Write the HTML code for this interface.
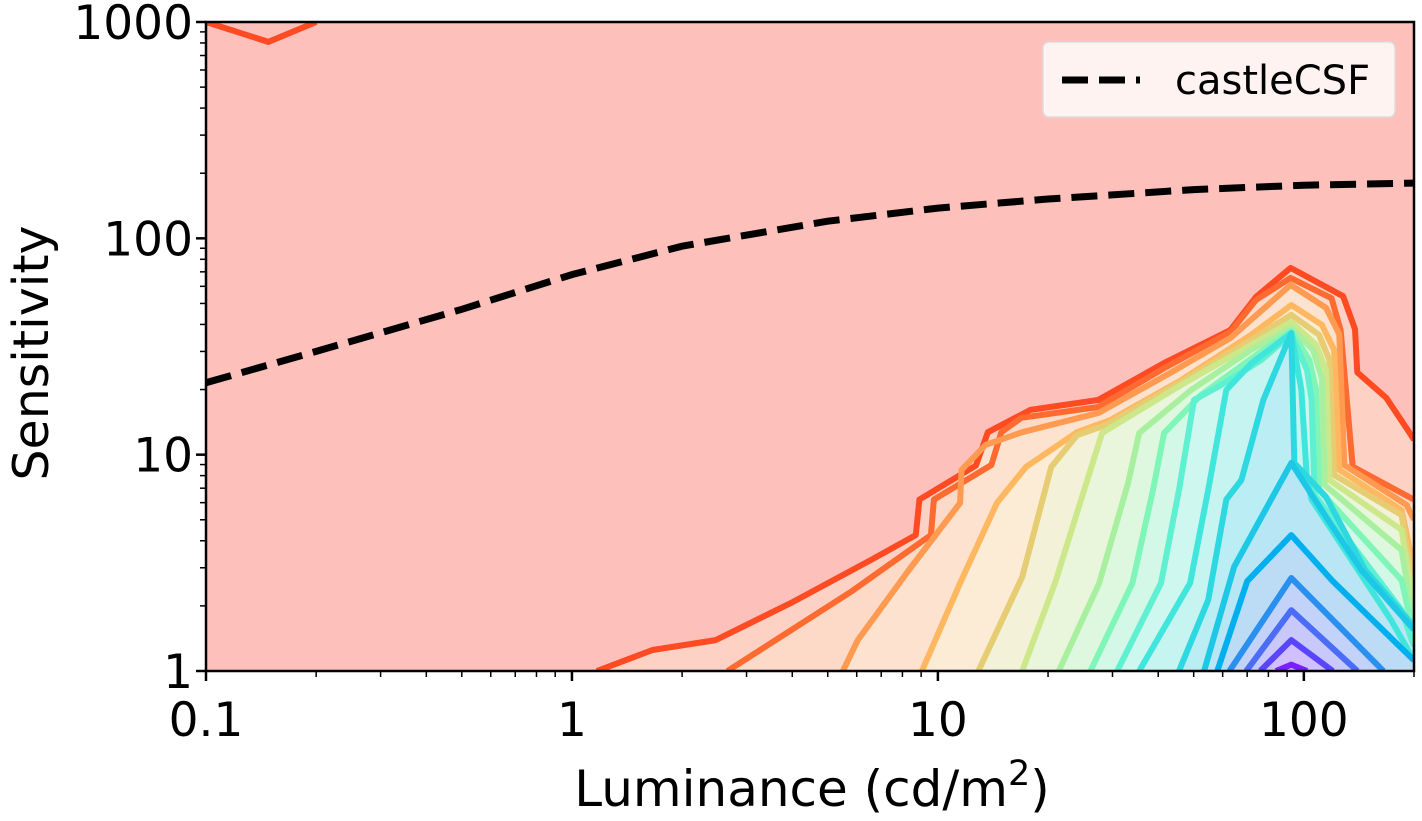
<!DOCTYPE html>
<html><head><meta charset="utf-8"><style>
html,body{margin:0;padding:0;background:#fff;}
svg{display:block;font-family:"DejaVu Sans","Liberation Sans",sans-serif;}
</style></head><body>
<svg id="chart" width="1422" height="821" xmlns="http://www.w3.org/2000/svg">
<defs><clipPath id="plotclip"><rect x="206" y="22" width="1208" height="649"/></clipPath></defs>
<rect x="206" y="22" width="1208" height="649" fill="#fdc0bb"/>
<g id="contours" clip-path="url(#plotclip)"></g>
<g id="csf" clip-path="url(#plotclip)"></g>
<rect x="206" y="22" width="1208" height="649" fill="none" stroke="#000" stroke-width="2.5"/>
<g id="axes"></g>
<text x="812" y="806" font-size="50" text-anchor="middle">Luminance (cd/m<tspan dy="-21" font-size="35">2</tspan><tspan dy="21">)</tspan></text>
<text transform="translate(48,353) rotate(-90)" font-size="49" text-anchor="middle">Sensitivity</text>
<g>
<rect x="1043" y="42" width="352" height="75" rx="6" fill="#fff" fill-opacity="0.8" stroke="#ddd" stroke-width="1.5"/>
<line x1="1062" y1="80" x2="1140" y2="80" stroke="#000" stroke-width="7" stroke-dasharray="26,11"/>
<text x="1175" y="94" font-size="40">castleCSF</text>
</g>
</svg>
<script>
const xTickValues = [0.1, 1, 10, 100];
const xTickLabels = ["0.1", "1", "10", "100"];
const yTickValues = [1, 10, 100, 1000];
const yTickLabels = ["1", "10", "100", "1000"];
const csfLum = [0.1, 0.2, 0.5, 1, 2, 5, 10, 20, 50, 100, 200];
const csfSens = [21.5, 30, 47, 68, 92, 120, 138, 152, 168, 176, 180];
const contourColors = ["#ff4a22","#ff6a30","#ff9a50","#ffb860","#e6cc72","#cce88a","#a8f0a0","#7ff5b8","#5ef0d0","#40e6dc","#2ed8e0","#1cc8e6","#00b0ee","#2a90f0","#4a6cf6","#5a46fa","#7a20ff"];
const contourFills = ["#fdd2c4","#fdd9c8","#fde3cf","#fcecd6","#f3f2d8","#eaf6dc","#def8e0","#d4f8e8","#cdf7ef","#c6f4f0","#baeef4","#b8e6f5","#bcdcf6","#c2d2f8","#c8c8fb","#d0c0ff","#d8b8ff"];
const c0 = [[0.1,1000],[0.148,809],[0.2,1000]];
const c1 = [[1.17,1],[1.66,1.25],[2.47,1.39],[3.96,2.06],[6.56,3.26],[8.7,4.25],[8.9,6.2],[12.7,8.9],[13.7,12.7],[17.9,16.1],[27.4,17.9],[42,26.8],[63,37.7],[74,53.6],[92,73],[128,54],[138,38],[140,24],[168,18.3],[194,12.7],[200,11.7]];
const c2 = [[2.66,1],[5.78,2.32],[9.57,4.25],[9.75,6.2],[14,8.96],[14.9,12.7],[16.9,14.8],[27.4,16.6],[42,25.4],[63,36.9],[74,51.9],[92,65.6],[119,52.9],[126,37.7],[136,8.8],[200,6.2]];
const c3 = [[5.5,1],[6.04,1.39],[8.33,2.93],[11.5,5.98],[11.6,8.5],[13.5,11.1],[17,12.7],[27.5,15.6],[43.4,24],[63,34.6],[92,60.9],[115,47.7],[125,36],[129,8.96],[191,5.85],[200,5.0]];
const c4 = [[9.04,1],[11.5,2.55],[14.5,5.98],[17.4,8.77],[24,12.7],[29.7,14.5],[46.2,22.1],[71.8,35.8],[92.4,49.2],[112,39.8],[121,30.5],[125,8.5],[185,5.55],[200,2.93]];
const c5 = [[12.9,1],[17,2.72],[20.4,8.77],[24,12.3],[28.8,13.7],[46.2,21.7],[71.8,33.9],[92.4,44.3],[110,35.8],[117.5,27.4],[121,8.06],[185,5.26],[200,2.37]];
const c6 = [[17,1],[20.9,2.55],[25.1,6.87],[28.1,12.6],[46.2,21],[71.8,32.2],[92.4,41.1],[108,32.2],[115,24.6],[117.5,7.64],[185,4.49],[200,1.98]];
const c7 = [[21.4,1],[27.6,2.55],[33.1,7.4],[35.5,12.6],[49.2,19.9],[71.8,30.5],[92.4,38.5],[106,30.5],[112,22.6],[114,7.24],[185,3.62],[200,1.63]];
const c8 = [[26.1,1],[34,2.55],[38.7,6.87],[41.5,12.6],[52.4,18.9],[74.1,28.9],[92.4,37.3],[103.5,27.4],[108,20],[110,6.87],[185,2.63],[200,1.45]];
const c9 = [[30.9,1],[40.7,2.55],[45.6,6.87],[50.1,17.9],[59.5,21],[76.5,27.4],[92.4,36],[102,24.6],[105,17.9],[107,6.5],[185,1.91],[200,1.3]];
const c10 = [[35.5,1],[48.9,2.55],[54.8,6.87],[61.4,19.9],[72,26.5],[92.4,36.5],[98.4,20],[102,7.64],[105,6.2],[173,1.72],[200,1.12]];
const c11 = [[45.6,1],[54.8,2.13],[61.4,6.2],[67.5,7.64],[77.5,17.9],[92.4,36.5],[94.2,9.16],[115,6.37],[147,2.93],[190,1.78],[200,1.6]];
const t1 = [[53.4,1],[64.5,3.03],[92.4,9.16],[115,5.15],[143.6,2.93],[200,1.55]];
const t2 = [[58,1],[70,2.6],[92.4,4.25],[120,2.6],[200,1.12]];
const t3 = [[62.6,1],[92.4,2.69],[165,1]];
const t4 = [[69.6,1],[92.4,1.91],[140,1]];
const t5 = [[76,1],[92.4,1.39],[120,1]];
const t6 = [[84,1],[92.4,1.07],[102,1]];
const contourSets = [c1,c2,c3,c4,c5,c6,c7,c8,c9,c10,c11,t1,t2,t3,t4,t5,t6];

const NS = "http://www.w3.org/2000/svg";
const X0 = 206, X1 = 1414, Y0 = 671, Y1 = 22;
const xMin = -1, xMax = Math.log10(200), yMin = 0, yMax = 3;
function xs(v){ return X0 + (Math.log10(v) - xMin) / (xMax - xMin) * (X1 - X0); }
function ys(v){ return Y0 - (Math.log10(v) - yMin) / (yMax - yMin) * (Y0 - Y1); }
function pts(arr){ return arr.map(p => xs(p[0]).toFixed(1) + "," + ys(p[1]).toFixed(1)).join(" "); }

const cg = document.getElementById("contours");
contourSets.forEach((set, i) => {
  const poly = document.createElementNS(NS, "polygon");
  const closing = [[200, 1]];
  poly.setAttribute("points", pts(set.concat(closing)));
  poly.setAttribute("fill", contourFills[i]);
  
  
  cg.appendChild(poly);
});
contourSets.forEach((set, i) => {
  const line = document.createElementNS(NS, "polyline");
  line.setAttribute("points", pts(set));
  line.setAttribute("fill", "none");
  line.setAttribute("stroke", contourColors[i]);
  line.setAttribute("stroke-width", "6");
  line.setAttribute("stroke-linejoin", "round");
  
  
  cg.appendChild(line);
});
const topLine = document.createElementNS(NS, "polyline");
topLine.setAttribute("points", pts(c0));
topLine.setAttribute("fill", "none");
topLine.setAttribute("stroke", contourColors[0]);
topLine.setAttribute("stroke-width", "6");


cg.appendChild(topLine);

const csfG = document.getElementById("csf");
const csf = document.createElementNS(NS, "polyline");
csf.setAttribute("points", pts(csfLum.map((l, i) => [l, csfSens[i]])));
csf.setAttribute("fill", "none");
csf.setAttribute("stroke", "#000");
csf.setAttribute("stroke-width", "7");
csf.setAttribute("stroke-dasharray", "26,11");


csfG.appendChild(csf);

const ax = document.getElementById("axes");
function tick(x1, y1, x2, y2, w){
  const l = document.createElementNS(NS, "line");
  l.setAttribute("x1", x1); l.setAttribute("y1", y1); l.setAttribute("x2", x2); l.setAttribute("y2", y2);
  l.setAttribute("stroke", "#000"); l.setAttribute("stroke-width", w);
  
  
  ax.appendChild(l);
}
function label(x, y, txt, anchor, name){
  const t = document.createElementNS(NS, "text");
  t.setAttribute("x", x); t.setAttribute("y", y); t.setAttribute("font-size", "47");
  t.setAttribute("text-anchor", anchor); t.textContent = txt;
  
  
  ax.appendChild(t);
}
for (let d = 0.1; d < 300; d *= 10) {
  for (let m = 2; m <= 9; m++) { const v = d * m; if (v <= 200.5) { const x = xs(v); tick(x, Y0, x, Y0 + 6, 1.5); } }
}
for (let d = 1; d < 1000; d *= 10) {
  for (let m = 2; m <= 9; m++) { const y = ys(d * m); tick(X0, y, X0 - 6, y, 1.5); }
}
xTickValues.forEach((v, i) => { const x = xs(v); tick(x, Y0, x, Y0 + 10, 2.5); label(x, 736, xTickLabels[i], "middle", 'x-tick-label'); });
yTickValues.forEach((v, i) => { const y = ys(v); tick(X0, y, X0 - 10, y, 2.5); label(193, y + 17, yTickLabels[i], "end", 'y-tick-label'); });
</script>
</body></html>
